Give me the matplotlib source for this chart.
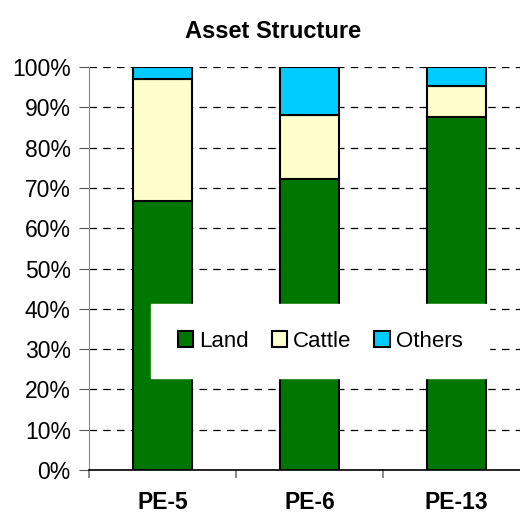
import matplotlib
matplotlib.use("Agg")
import matplotlib.pyplot as plt
import numpy as np
from matplotlib.ticker import FixedLocator, PercentFormatter

plt.rcParams['font.family'] = ['Liberation Sans', 'DejaVu Sans']

categories = ["PE-5", "PE-6", "PE-13"]
land = [66.7, 72.3, 87.6]
cattle = [30.3, 15.9, 7.8]
others = [3.0, 11.8, 4.6]
series_names = ["Land", "Cattle", "Others"]
colors = ["#007800", "#FFFFCC", "#00CCFF"]

fig = plt.figure(figsize=(5.2, 5.2), dpi=100)
ax = fig.add_axes([0.171, 0.096, 0.829, 0.775])

x = np.arange(len(categories))
bottom = np.zeros(len(categories))
for vals, name, col in zip([land, cattle, others], series_names, colors):
    ax.bar(x, vals, bottom=bottom, width=0.4, color=col, edgecolor="black",
           linewidth=1.5, label=name, zorder=3)
    bottom += np.array(vals)

ax.set_xlim(-0.5, 2.43)
ax.set_ylim(0, 100)
ax.set_yticks(np.arange(0, 101, 10))
ax.yaxis.set_major_formatter(PercentFormatter(decimals=0))
ax.yaxis.grid(True, linestyle=(0, (6, 5)), color="black", linewidth=0.9, zorder=0)
ax.set_xticks(x)
ax.set_xticklabels(categories, fontweight="bold", fontsize=16.5)
ax.xaxis.set_minor_locator(FixedLocator([-0.5, 0.5, 1.5, 2.5]))
ax.tick_params(axis="x", which="major", length=0, pad=15)
ax.tick_params(axis="x", which="minor", length=6, direction="out", color="#777777", width=1.2)
ax.tick_params(axis="y", labelsize=16.5, length=7, color="#555555", pad=6)

for s in ["top", "right"]:
    ax.spines[s].set_visible(False)
ax.spines["left"].set_color("#888888")
ax.spines["bottom"].set_color("black")
ax.spines["bottom"].set_linewidth(1.2)

fig.text(0.525, 0.94, "Asset Structure", ha="center", va="center",
         fontsize=17, fontweight="bold")

leg = ax.legend(loc="center", bbox_to_anchor=(0.536, 0.32), ncol=3,
                fontsize=16, frameon=True, fancybox=False, edgecolor="white",
                framealpha=1, handlelength=0.7, handleheight=0.7,
                handletextpad=0.25, columnspacing=1.05, borderpad=1.2)
leg.set_zorder(5)

fig.savefig("out.png", dpi=100)
